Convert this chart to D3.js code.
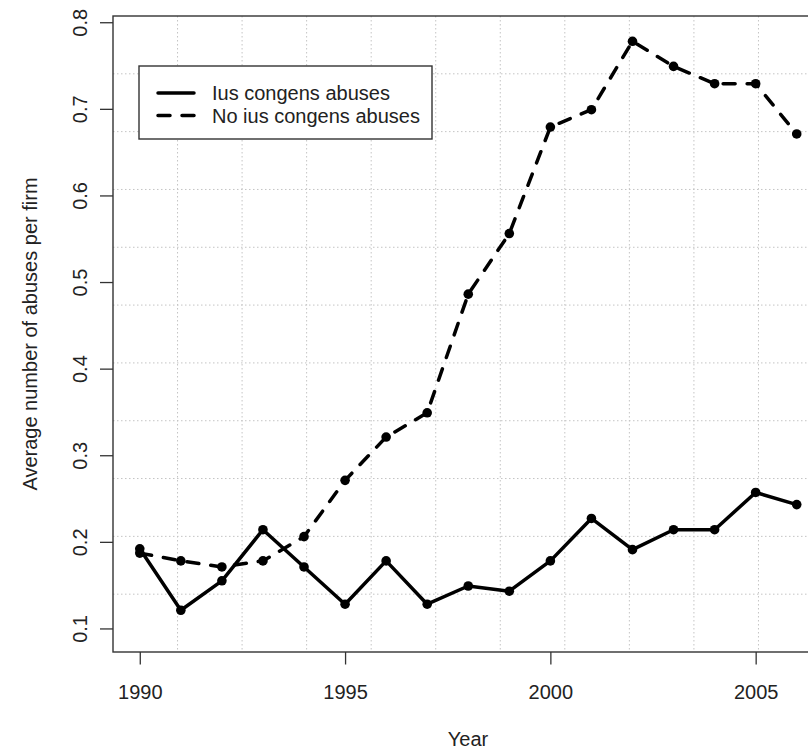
<!DOCTYPE html>
<html>
<head>
<meta charset="utf-8">
<script src="https://cdn.jsdelivr.net/npm/d3@7/dist/d3.min.js"></script>
<style>
  html, body { margin: 0; padding: 0; background: #fff; }
  svg { display: block; }
  text { font-family: "Liberation Sans", Arial, sans-serif; fill: #222; }
</style>
</head>
<body>
<script>
// Average number of abuses per firm, by year
const years = [1990, 1991, 1992, 1993, 1994, 1995, 1996, 1997, 1998, 1999,
               2000, 2001, 2002, 2003, 2004, 2005, 2006];
const iusCongens = [0.192, 0.121, 0.155, 0.214, 0.171, 0.128, 0.178, 0.128, 0.149,
                    0.143, 0.178, 0.227, 0.191, 0.214, 0.214, 0.257, 0.243];
const noIusCongens = [0.187, 0.178, 0.171, 0.178, 0.206, 0.271, 0.321, 0.349, 0.486,
                      0.556, 0.679, 0.699, 0.778, 0.749, 0.729, 0.729, 0.671];
const xTicks = [1990, 1995, 2000, 2005];
const yTicks = [0.1, 0.2, 0.3, 0.4, 0.5, 0.6, 0.7, 0.8];
const seriesNames = ["Ius congens abuses", "No ius congens abuses"];

const W = 808, H = 754;
const box = { left: 113, right: 823, top: 16, bottom: 652 };

const svg = d3.select("body").append("svg")
  .attr("width", W).attr("height", H);

// Axis limits padded by 4% like a base-graphics plot
const xPad = (2006 - 1990) * 0.04;
const yPad = (0.78 - 0.1) * 0.04;
const x = d3.scaleLinear().domain([1990 - xPad, 2006 + xPad]).range([box.left + 0.5, box.right]);
const y = d3.scaleLinear().domain([0.1 - yPad, 0.78 + yPad]).range([box.bottom, box.top]);

// Dotted background grid, 11 equal cells each way
const grid = svg.append("g")
  .attr("stroke", "#c4c4c4").attr("stroke-width", 1)
  .attr("stroke-dasharray", "1.5,2.5").attr("fill", "none");
const nCells = 11;
d3.range(1, nCells).forEach(k => {
  const gx = box.left + k * (box.right - box.left) / nCells;
  grid.append("line").attr("x1", gx).attr("x2", gx)
    .attr("y1", box.top).attr("y2", box.bottom);
  const gy = box.top + k * (box.bottom - box.top) / nCells;
  grid.append("line").attr("x1", box.left).attr("x2", W)
    .attr("y1", gy).attr("y2", gy);
});

// Axes
const xAxis = svg.append("g")
  .attr("transform", `translate(0,${box.bottom})`)
  .call(d3.axisBottom(x).tickValues(xTicks).tickSize(12.5).tickPadding(20)
        .tickFormat(d3.format("d")));
xAxis.select(".domain").remove();
xAxis.selectAll("line").attr("stroke", "#333").attr("stroke-width", 1.3);
xAxis.selectAll("text").attr("font-size", 20).attr("fill", "#222")
  .attr("font-family", "Liberation Sans, Arial, sans-serif");

const yAxis = svg.append("g")
  .attr("transform", `translate(${box.left},0)`)
  .call(d3.axisLeft(y).tickValues(yTicks).tickSize(13).tickFormat(d3.format(".1f")));
yAxis.select(".domain").remove();
yAxis.selectAll("line").attr("stroke", "#333").attr("stroke-width", 1.3);
yAxis.selectAll("text")
  .attr("font-size", 20).attr("fill", "#222")
  .attr("font-family", "Liberation Sans, Arial, sans-serif")
  .attr("text-anchor", "middle")
  .attr("x", null).attr("dy", null)
  .attr("transform", "translate(-26,0) rotate(-90)");

// Plot frame
svg.append("rect")
  .attr("x", box.left).attr("y", box.top)
  .attr("width", box.right - box.left).attr("height", box.bottom - box.top)
  .attr("fill", "none").attr("stroke", "#333").attr("stroke-width", 1.4);

// Axis titles
svg.append("text")
  .attr("x", (box.left + box.right) / 2).attr("y", 746)
  .attr("text-anchor", "middle").attr("font-size", 20)
  .text("Year");
svg.append("text")
  .attr("transform", `translate(37,${(box.top + box.bottom) / 2}) rotate(-90)`)
  .attr("text-anchor", "middle").attr("font-size", 20)
  .text("Average number of abuses per firm");

// Series
const series = [
  { name: seriesNames[0], values: iusCongens, dash: null },
  { name: seriesNames[1], values: noIusCongens, dash: "12,12" }
];
const line = d3.line().x(d => x(d[0])).y(d => y(d[1]));

series.forEach(s => {
  const pts = years.map((yr, i) => [yr, s.values[i]]);
  svg.append("path")
    .datum(pts)
    .attr("d", line)
    .attr("fill", "none").attr("stroke", "#000")
    .attr("stroke-width", 3.5)
    .attr("stroke-linecap", "round").attr("stroke-linejoin", "round")
    .attr("stroke-dasharray", s.dash);
  svg.append("g").selectAll("circle").data(pts).join("circle")
    .attr("cx", d => x(d[0])).attr("cy", d => y(d[1]))
    .attr("r", 4.8).attr("fill", "#000");
});

// Legend
const leg = svg.append("g");
leg.append("rect")
  .attr("x", 139).attr("y", 66).attr("width", 293).attr("height", 73)
  .attr("fill", "#fff").attr("stroke", "#333").attr("stroke-width", 1.4);
series.forEach((s, i) => {
  const ly = 93 + i * 22.5;
  leg.append("line")
    .attr("x1", 158).attr("x2", 194).attr("y1", ly).attr("y2", ly)
    .attr("stroke", "#000").attr("stroke-width", 3.5)
    .attr("stroke-linecap", "round")
    .attr("stroke-dasharray", s.dash);
  leg.append("text")
    .attr("x", 212).attr("y", ly).attr("dy", "0.35em")
    .attr("font-size", 20)
    .text(s.name);
});
</script>
</body>
</html>
